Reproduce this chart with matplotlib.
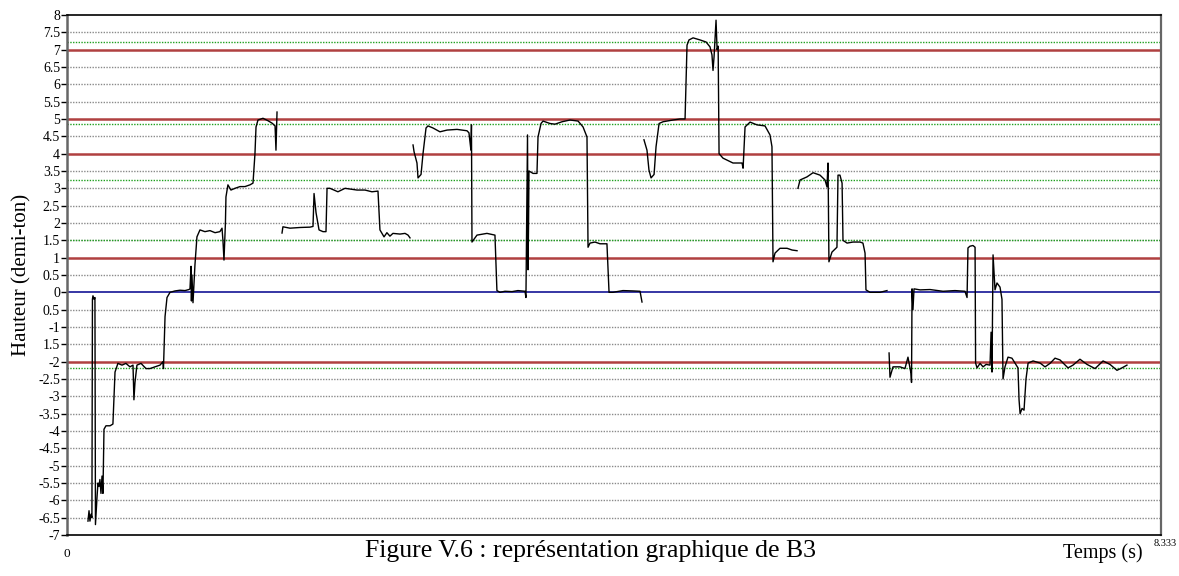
import numpy as np
import matplotlib.pyplot as plt

plt.rcParams['font.family'] = ['Liberation Serif', 'DejaVu Serif']

# pitch contour, one list per voiced segment (time in s, height in semitones)
t1 = [0.160, 0.168, 0.175, 0.183, 0.190, 0.194, 0.198, 0.206, 0.213, 0.217, 0.229, 0.236,
      0.244, 0.251, 0.259, 0.267, 0.274, 0.282, 0.297, 0.328, 0.350, 0.366, 0.388, 0.419,
      0.449, 0.480, 0.503, 0.510, 0.518, 0.533, 0.564, 0.602, 0.632, 0.670, 0.709, 0.731,
      0.735, 0.747, 0.762, 0.785, 0.823, 0.861, 0.899, 0.929, 0.937, 0.945, 0.948, 0.952,
      0.960, 0.975, 0.990, 1.013, 1.051, 1.089, 1.128, 1.165, 1.181, 1.188, 1.196, 1.207,
      1.211, 1.226, 1.249, 1.280, 1.318, 1.356, 1.394, 1.417, 1.432, 1.440, 1.455, 1.493,
      1.531, 1.562, 1.585, 1.592, 1.600]
f1 = [-6.6, -6.3, -6.6, -6.4, -6.5, -0.2, -0.1, -0.2, -0.15, -6.7, -5.9, -5.5,
      -5.6, -5.4, -5.8, -5.3, -5.8, -3.95, -3.85, -3.85, -3.8, -2.3, -2.05, -2.1,
      -2.05, -2.15, -2.1, -3.1, -2.6, -2.1, -2.05, -2.2, -2.2, -2.15, -2.1, -2.0,
      -2.2, -0.7, -0.15, 0.0, 0.04, 0.06, 0.05, 0.08, 0.1, 0.75, -0.25, 0.5,
      -0.3, 0.8, 1.6, 1.8, 1.75, 1.78, 1.72, 1.75, 1.85, 1.5, 0.93, 2.0,
      2.75, 3.1, 2.95, 3.0, 3.05, 3.05, 3.1, 3.15, 4.0, 4.77, 4.97, 5.02,
      4.95, 4.88, 4.8, 4.1, 5.2]

t2 = [1.638, 1.645, 1.699, 1.775, 1.851, 1.874, 1.882, 1.897, 1.920, 1.950, 1.973, 1.981,
      2.003, 2.064, 2.118, 2.209, 2.270, 2.323, 2.369, 2.384, 2.415, 2.437, 2.460, 2.483,
      2.537, 2.575, 2.598, 2.613]
f2 = [1.71, 1.89, 1.85, 1.87, 1.88, 1.9, 2.85, 2.3, 1.8, 1.75, 1.75, 3.0,
      3.0, 2.9, 3.0, 2.95, 2.95, 2.9, 2.92, 1.8, 1.6, 1.72, 1.62, 1.7,
      1.68, 1.7, 1.65, 1.57]

t3 = [2.636, 2.644, 2.666, 2.674, 2.697, 2.712, 2.735, 2.750, 2.788, 2.841, 2.895, 2.971,
      3.047, 3.062, 3.077, 3.081, 3.085, 3.123, 3.199, 3.260, 3.275, 3.298, 3.336, 3.390,
      3.435, 3.489, 3.496, 3.508, 3.512, 3.516, 3.519, 3.550, 3.580, 3.588, 3.611, 3.626,
      3.679, 3.717, 3.771, 3.832, 3.893, 3.931, 3.961, 3.969, 3.984, 4.022, 4.060, 4.113,
      4.129, 4.159, 4.235, 4.311, 4.365, 4.380]
f3 = [4.25, 4.05, 3.73, 3.3, 3.4, 4.0, 4.74, 4.8, 4.74, 4.63, 4.68, 4.7,
      4.66, 4.6, 4.1, 4.83, 1.45, 1.65, 1.7, 1.65, 0.05, 0.0, 0.03, 0.02,
      0.05, 0.03, -0.15, 4.54, 0.65, 2.0, 3.5, 3.43, 3.43, 4.48, 4.87, 4.94,
      4.87, 4.85, 4.92, 4.97, 4.94, 4.77, 4.48, 1.3, 1.42, 1.45, 1.4, 1.4,
      0.0, 0.0, 0.05, 0.04, 0.03, -0.28]

t4 = [4.395, 4.418, 4.433, 4.449, 4.472, 4.487, 4.510, 4.540, 4.616, 4.670, 4.708, 4.723,
      4.738, 4.769, 4.822, 4.868, 4.898, 4.913, 4.921, 4.929, 4.944, 4.952, 4.960, 4.967,
      4.997, 5.073, 5.142, 5.150, 5.165, 5.203, 5.256, 5.317, 5.355, 5.370, 5.378, 5.393,
      5.431, 5.485, 5.523, 5.561]
f4 = [4.4, 4.1, 3.53, 3.3, 3.4, 4.2, 4.87, 4.92, 4.97, 5.0, 5.0, 7.13,
      7.28, 7.34, 7.28, 7.22, 7.08, 6.85, 6.4, 6.8, 7.85, 7.0, 7.1, 4.0,
      3.87, 3.73, 3.73, 3.58, 4.77, 4.91, 4.83, 4.8, 4.54, 4.2, 0.88, 1.13,
      1.27, 1.27, 1.22, 1.2]

t5 = [5.568, 5.584, 5.637, 5.683, 5.736, 5.774, 5.789, 5.797, 5.804, 5.827, 5.865, 5.873,
      5.888, 5.904, 5.911, 5.942, 5.987, 6.041, 6.063, 6.079, 6.086, 6.117, 6.193, 6.246]
f5 = [3.0, 3.24, 3.33, 3.45, 3.38, 3.24, 3.04, 3.73, 0.88, 1.16, 1.3, 3.38,
      3.38, 3.15, 1.5, 1.42, 1.45, 1.45, 1.42, 1.13, 0.07, 0.0, 0.0, 0.05]

t6 = [6.262, 6.269, 6.292, 6.345, 6.383, 6.406, 6.429, 6.433, 6.437, 6.444, 6.452, 6.498,
      6.574, 6.673, 6.764, 6.840, 6.856, 6.863, 6.878, 6.901, 6.917, 6.921, 6.932, 6.955,
      6.978, 7.001, 7.031, 7.039, 7.046, 7.054, 7.069, 7.084, 7.107, 7.122, 7.130, 7.145,
      7.168, 7.198, 7.221, 7.244, 7.252, 7.260, 7.275, 7.290, 7.305, 7.321, 7.359, 7.412,
      7.450, 7.488, 7.526, 7.564, 7.625, 7.663, 7.716, 7.770, 7.831, 7.892, 7.945, 7.998,
      8.036, 8.074]
f6 = [-1.75, -2.45, -2.15, -2.15, -2.2, -1.87, -2.34, -2.6, 0.1, -0.5, 0.1, 0.07,
      0.08, 0.03, 0.05, 0.03, -0.15, 1.28, 1.33, 1.35, 1.3, -2.04, -2.18, -2.05,
      -2.15, -2.08, -2.1, -1.15, -2.3, 1.08, 0.07, 0.27, 0.15, -0.2, -2.5, -2.15,
      -1.87, -1.9, -2.04, -2.18, -3.1, -3.5, -3.35, -3.4, -2.5, -2.04, -1.98, -2.04,
      -2.15, -2.05, -1.9, -1.95, -2.18, -2.1, -1.93, -2.08, -2.2, -1.98, -2.08, -2.25,
      -2.18, -2.1]

segments = [(t1, f1), (t2, f2), (t3, f3), (t4, f4), (t5, f5), (t6, f6)]

# reference levels
red_levels = [7, 5, 4, 1, -2]
green_levels = [7.21, 4.86, 3.23, 1.51, -2.17]
blue_level = 0

t_max = 8.333
y_ticks = np.arange(-7, 8.01, 0.5)
y_labels = ['-7', '-6.5', '-6', '-5.5', '-5', '-4.5', '-4', '-3.5', '-3', '-2.5', '-2',
            '1.5', '-1', '0.5', '0', '0.5', '1', '1.5', '2', '2.5', '3', '3.5', '4',
            '4.5', '5', '5.5', '6', '6.5', '7', '7.5', '8']

fig = plt.figure(figsize=(11.79, 5.76), dpi=100)
ax = fig.add_axes([0.0568, 0.0712, 0.9279, 0.9028])

for y in y_ticks:
    if y in red_levels or y == blue_level or y in (8, -7):
        continue
    ax.axhline(y, color='#8a8a8a', lw=1.0, ls=(0, (1, 1)), zorder=1)
for y in green_levels:
    ax.axhline(y, color='#1fa01f', lw=1.0, ls=(0, (1, 1)), zorder=2)
for y in red_levels:
    ax.axhline(y, color='#b04040', lw=1.8, zorder=2)
ax.axhline(blue_level, color='#00008c', lw=1.1, zorder=2)

for t, f in segments:
    ax.plot(t, f, color='black', lw=1.0, zorder=3)

ax.set_xlim(0, t_max)
ax.set_ylim(-7, 8)
ax.set_yticks(y_ticks)
ax.set_yticklabels(y_labels, fontsize=10)
ax.set_xticks([])
ax.tick_params(axis='y', length=4, width=1, pad=1, color='black')

ax.spines['left'].set_color('#666666')
ax.spines['left'].set_linewidth(1.8)
ax.spines['right'].set_color('#666666')
ax.spines['right'].set_linewidth(1.6)
ax.spines['top'].set_linewidth(1.2)
ax.spines['bottom'].set_linewidth(1.2)

ax.set_ylabel('Hauteur (demi-ton)', fontsize=15)
ax.yaxis.set_label_coords(-0.032, 0.5)
ax.text(0, -0.025, '0', transform=ax.transAxes, ha='center', va='top', fontsize=9.5)
ax.text(1.014, -0.007, '8.333', transform=ax.transAxes, ha='right', va='top', fontsize=7.5)
fig.text(0.935, 0.022, 'Temps (s)', ha='center', va='bottom', fontsize=14.5)
fig.text(0.501, 0.024, 'Figure V.6 : représentation graphique de B3', ha='center',
         va='bottom', fontsize=18.5)

fig.savefig('out.png', dpi=100)
